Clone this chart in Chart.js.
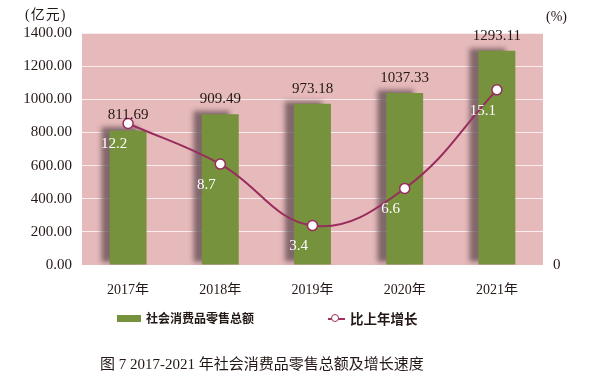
<!DOCTYPE html>
<html>
<head>
<meta charset="utf-8">
<script src="https://cdn.jsdelivr.net/npm/chart.js@4.4.1/dist/chart.umd.min.js"></script>
<style>
  html, body { margin: 0; padding: 0; background: #ffffff; }
  #wrap { position: relative; width: 600px; height: 383px; overflow: hidden; }
  #c { position: absolute; left: 0; top: 0; }
  .txt { position: absolute; white-space: nowrap; color: #231815; line-height: 1; }
  .unit { font-family: "Liberation Serif", "Noto Sans CJK SC", serif; font-size: 14px; }
  .leg { font-family: "Noto Sans CJK SC", sans-serif; font-weight: bold; font-size: 12px; color: #231815; }
  .title { font-family: "Liberation Serif", "Noto Sans CJK SC", serif; font-size: 15px; color: #231815; }
</style>
</head>
<body>
<div id="wrap">
  <canvas id="c" width="600" height="383"></canvas>
  <div class="txt unit" style="left:25px; top:8px; letter-spacing:1px;">(亿元)</div>
  <div class="txt unit" style="left:546px; top:10px;">(%)</div>
  <div style="position:absolute; left:117px; top:315px; width:24px; height:7px; background:#76923c;"></div>
  <div class="txt leg" style="left:146px; top:312px;">社会消费品零售总额</div>
  <div style="position:absolute; left:328px; top:318px; width:17px; height:2px; background:#a0325f;"></div>
  <div style="position:absolute; left:331px; top:314px; width:8px; height:8px; border:1.5px solid #a0325f; border-radius:50%; background:#fff; box-sizing:border-box;"></div>
  <div class="txt leg" style="left:350px; top:311.5px; font-size:13.5px;">比上年增长</div>
  <div class="txt title" style="left:100px; top:357px;">图 7 2017-2021 年社会消费品零售总额及增长速度</div>
</div>
<script>
const categories = ['2017年', '2018年', '2019年', '2020年', '2021年'];
const salesValues = [811.69, 909.49, 973.18, 1037.33, 1293.11];
const growthRates = [12.2, 8.7, 3.4, 6.6, 15.1];
const leftTickMin = 0, leftTickMax = 1400, leftTickStep = 200;
const rightTickMin = 0, rightTickMax = 20;

const bgPlugin = {
  id: 'plotBg',
  beforeDraw(chart) {
    const { ctx, chartArea: a } = chart;
    ctx.save();
    ctx.fillStyle = '#e6b9ba';
    ctx.fillRect(a.left, a.top, a.right - a.left, a.bottom - a.top);
    ctx.restore();
  }
};

const shadowPlugin = {
  id: 'barShadow',
  beforeDatasetDraw(chart, args) {
    if (args.index !== 0) return;
    const ctx = chart.ctx;
    ctx.save();
    ctx.shadowColor = 'rgba(95,75,80,0.75)';
    ctx.shadowOffsetX = -9;
    ctx.shadowOffsetY = -3;
    ctx.shadowBlur = 5;
  },
  afterDatasetDraw(chart, args) {
    if (args.index !== 0) return;
    chart.ctx.restore();
  }
};

const labelPlugin = {
  id: 'valueLabels',
  afterDatasetsDraw(chart) {
    const ctx = chart.ctx;
    ctx.save();
    ctx.textAlign = 'center';
    ctx.textBaseline = 'middle';
    ctx.font = '15px "Liberation Serif", serif';
    const barMeta = chart.getDatasetMeta(0);
    ctx.fillStyle = '#231815';
    barMeta.data.forEach((el, i) => {
      ctx.fillText(salesValues[i].toFixed(2), el.x, el.y - 15);
    });
    const lineMeta = chart.getDatasetMeta(1);
    ctx.fillStyle = '#ffffff';
    lineMeta.data.forEach((el, i) => {
      ctx.fillText(growthRates[i].toFixed(1), el.x - 14, el.y + 21);
    });
    ctx.restore();
  }
};

new Chart(document.getElementById('c'), {
  data: {
    labels: categories,
    datasets: [
      {
        type: 'bar',
        label: '社会消费品零售总额',
        data: salesValues,
        backgroundColor: '#76923c',
        yAxisID: 'y',
        categoryPercentage: 1,
        barPercentage: 0.4,
        order: 2
      },
      {
        type: 'line',
        label: '比上年增长',
        data: growthRates,
        borderColor: '#982d5d',
        borderWidth: 2,
        tension: 0.4,
        pointRadius: 5,
        pointBackgroundColor: '#ffffff',
        pointBorderColor: '#982d5d',
        pointBorderWidth: 1.5,
        yAxisID: 'y1',
        order: 1
      }
    ]
  },
  options: {
    responsive: false,
    animation: false,
    devicePixelRatio: 1,
    layout: { padding: { top: 33, left: 0, right: 0, bottom: 88 } },
    plugins: {
      legend: { display: false },
      tooltip: { enabled: false }
    },
    scales: {
      x: {
        grid: { display: false },
        border: { display: false },
        ticks: {
          color: '#231815',
          font: { family: '"Liberation Serif", "Noto Sans CJK SC", serif', size: 14 },
          padding: 9
        },
        afterFit(s) { s.height = 30; }
      },
      y: {
        position: 'left',
        min: leftTickMin,
        max: leftTickMax,
        ticks: {
          stepSize: leftTickStep,
          color: '#231815',
          font: { family: '"Liberation Serif", serif', size: 15 },
          padding: 10,
          callback: v => Number(v).toFixed(2)
        },
        grid: { color: 'rgba(255,255,255,0.75)', lineWidth: 1, drawTicks: false },
        border: { display: false },
        afterFit(s) { s.width = 82; }
      },
      y1: {
        position: 'right',
        min: rightTickMin,
        max: rightTickMax,
        ticks: {
          stepSize: 20,
          color: '#231815',
          font: { family: '"Liberation Serif", serif', size: 15 },
          padding: 10,
          callback: v => (v === 0 ? '0' : '')
        },
        grid: { display: false, drawTicks: false },
        border: { display: false },
        afterFit(s) { s.width = 57; }
      }
    }
  },
  plugins: [bgPlugin, shadowPlugin, labelPlugin]
});
</script>
</body>
</html>
